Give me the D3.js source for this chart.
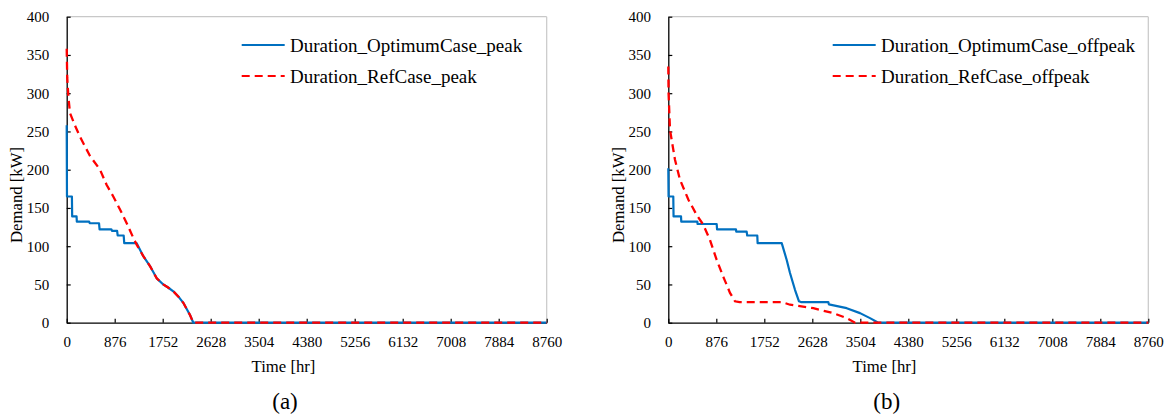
<!DOCTYPE html>
<html><head><meta charset="utf-8">
<script src="https://cdn.jsdelivr.net/npm/d3@7"></script>
<style>
body{margin:0;background:#fff}
svg text{font-family:Tinos,FreeSerif,serif;fill:#000}
</style>
</head><body>
<svg id="c" width="1168" height="419"></svg>
<script>
// ---------- data ----------
const xTicks = [0, 876, 1752, 2628, 3504, 4380, 5256, 6132, 7008, 7884, 8760];
const yTicks = [0, 50, 100, 150, 200, 250, 300, 350, 400];

const peakNames = ["Duration_OptimumCase_peak", "Duration_RefCase_peak"];
const offpeakNames = ["Duration_OptimumCase_offpeak", "Duration_RefCase_offpeak"];

const peakOptHr = [0, 5, 95, 100, 180, 185, 410, 420, 590, 600, 815, 830, 920, 930, 1040, 1050, 1277, 1398, 1520, 1643, 1763, 1850, 1946, 2040, 2128, 2250, 2311, 8760];
const peakOptKW = [258, 165, 165, 139, 139, 132, 132, 130, 130, 122, 122, 120, 120, 114, 114, 104, 104, 87, 74, 58, 50, 46, 41, 34, 26, 10, 0, 0];

const peakRefHr = [0, 10, 30, 60, 150, 243, 425, 608, 730, 850, 973, 1095, 1215, 1277, 1398, 1520, 1643, 1763, 1850, 1946, 2040, 2128, 2250, 2311, 8760];
const peakRefKW = [358, 320, 296, 274, 258, 243, 218, 200, 180, 165, 148, 130, 111, 102, 87, 74, 58, 50, 46, 41, 34, 26, 10, 0, 0];

const offOptHr = [0, 5, 91, 96, 232, 237, 530, 535, 883, 890, 1235, 1240, 1430, 1440, 1624, 1630, 2070, 2161, 2221, 2312, 2385, 2420, 2920, 2930, 3256, 3499, 3681, 3833, 8760];
const offOptKW = [202, 165, 165, 139, 139, 132, 132, 129, 129, 122, 122, 119, 119, 114, 114, 104, 104, 82, 65, 43, 28, 27, 27, 24, 19, 12.5, 6, 0, 0];

const offRefHr = [0, 5, 31, 122, 213, 365, 517, 639, 761, 883, 1004, 1126, 1217, 1300, 2070, 2221, 2646, 3011, 3256, 3407, 8760];
const offRefKW = [335, 300, 252, 213, 187, 161, 141, 128, 108, 82, 60, 39, 28, 27, 27, 23.5, 19, 12.5, 6, 0, 0];

// ---------- layout ----------
const svg = d3.select("#c");
const plotTop = 16.7, plotBottom = 322.7, plotW = 480;
const FONT = "Tinos, FreeSerif, serif";

const panels = [
  {x0: 66.7, names: peakNames, opt: [peakOptHr, peakOptKW], ref: [peakRefHr, peakRefKW],
   yTitleX: 22, xTitleX: 283.5, tagX: 285, tag: "(a)", legLine: 241.7, legText: 290},
  {x0: 668.3, names: offpeakNames, opt: [offOptHr, offOptKW], ref: [offRefHr, offRefKW],
   yTitleX: 624, xTitleX: 884.5, tagX: 886.7, tag: "(b)", legLine: 832.7, legText: 881}
];

const blue = "#0070C0", red = "#FF0000";

panels.forEach(p => {
  const x = d3.scaleLinear().domain([0, 8760]).range([p.x0, p.x0 + plotW]);
  const y = d3.scaleLinear().domain([0, 400]).range([plotBottom, plotTop]);
  const g = svg.append("g").attr("font-family", FONT);

  // light frame (top/right)
  g.append("line").attr("x1", x(0)).attr("x2", x(8760)).attr("y1", y(400)).attr("y2", y(400))
    .attr("stroke", "#c8c8c8").attr("stroke-width", 1.2);
  g.append("line").attr("x1", x(8760)).attr("x2", x(8760)).attr("y1", y(400)).attr("y2", y(0))
    .attr("stroke", "#c8c8c8").attr("stroke-width", 1.2);

  const xa = g.append("g").attr("transform", `translate(0,${plotBottom})`)
    .call(d3.axisBottom(x).tickValues(xTicks).tickFormat(d3.format("d")).tickSizeInner(-4).tickSizeOuter(0).tickPadding(13.3));
  const ya = g.append("g").attr("transform", `translate(${p.x0},0)`)
    .call(d3.axisLeft(y).tickValues(yTicks).tickSizeInner(-4).tickSizeOuter(0).tickPadding(17.4));
  [xa, ya].forEach(a => {
    a.attr("font-family", FONT).attr("font-size", 15);
    a.selectAll("text").attr("font-size", 15).attr("font-family", FONT);
    a.select(".domain").attr("stroke", "#000").attr("stroke-width", 1.3);
    a.selectAll(".tick line").attr("stroke", "#000").attr("stroke-width", 1.2);
  });

  const line = d3.line().x(d => x(d[0])).y(d => y(d[1]));
  const optPts = p.opt[0].map((h, i) => [h, p.opt[1][i]]);
  const refPts = p.ref[0].map((h, i) => [h, p.ref[1][i]]);

  g.append("path").attr("d", line(optPts)).attr("fill", "none")
    .attr("stroke", blue).attr("stroke-width", 2.2).attr("stroke-linejoin", "round");
  g.append("path").attr("d", line(refPts)).attr("fill", "none")
    .attr("stroke", red).attr("stroke-width", 2.3).attr("stroke-dasharray", "8,5");

  // axis titles
  g.append("text").attr("transform", `translate(${p.yTitleX},195) rotate(-90)`)
    .attr("text-anchor", "middle").attr("font-size", 16.7).text("Demand [kW]");
  g.append("text").attr("x", p.xTitleX).attr("y", 371.5)
    .attr("text-anchor", "middle").attr("font-size", 16.7).text("Time [hr]");
  g.append("text").attr("x", p.tagX).attr("y", 409)
    .attr("text-anchor", "middle").attr("font-size", 23).text(p.tag);

  // legend
  const rows = [{name: p.names[0], color: blue, dash: null, yc: 45},
                {name: p.names[1], color: red, dash: "8,5", yc: 76}];
  rows.forEach(r => {
    g.append("line").attr("x1", p.legLine).attr("x2", p.legLine + 43)
      .attr("y1", r.yc).attr("y2", r.yc)
      .attr("stroke", r.color).attr("stroke-width", 2.2)
      .attr("stroke-dasharray", r.dash);
    g.append("text").attr("x", p.legText).attr("y", r.yc + 6.5)
      .attr("font-size", 19).text(r.name);
  });
});
</script>
</body></html>
